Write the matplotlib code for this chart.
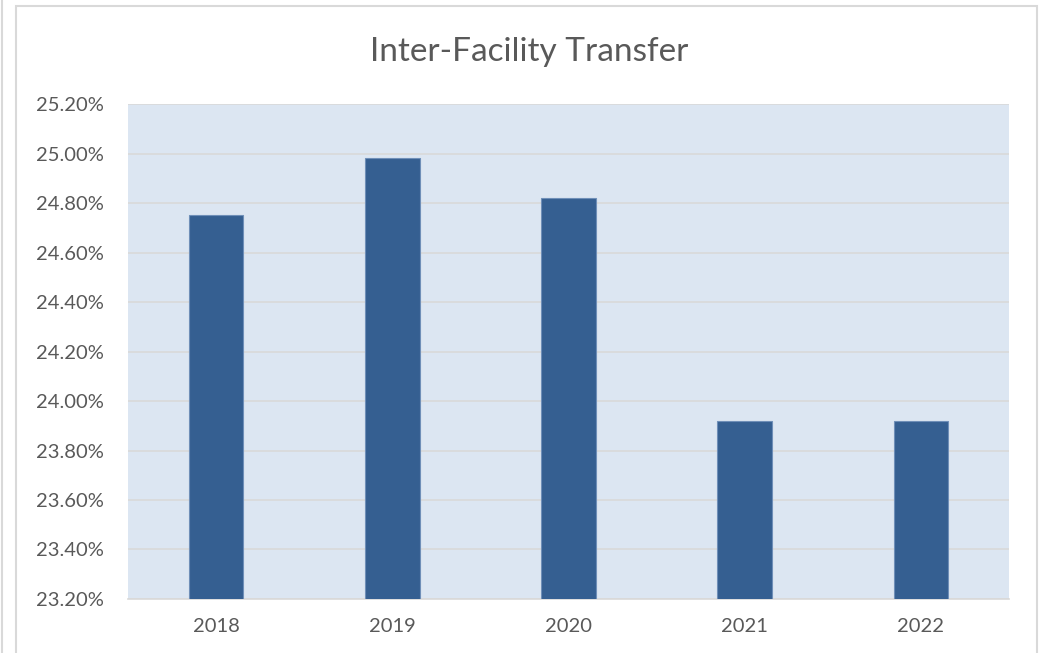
import matplotlib.pyplot as plt
from matplotlib.patches import Rectangle
from matplotlib.lines import Line2D
from matplotlib.ticker import FuncFormatter, MultipleLocator

years = ["2018", "2019", "2020", "2021", "2022"]
rates = [24.75, 24.98, 24.82, 23.92, 23.92]

plt.rcParams['font.family'] = ['Lato', 'DejaVu Sans']

fig = plt.figure(figsize=(10.42, 6.53), dpi=100)
ax = fig.add_axes([0.1228, 0.0827, 0.8455, 0.758])

# chart border (and edge of the neighbouring chart on the left)
fig.patches.append(Rectangle((16 / 1042, -0.05), 1021 / 1042, 1 - 6 / 653 + 0.05,
                             transform=fig.transFigure, fill=False,
                             edgecolor='#d9d9d9', linewidth=1.5))
fig.lines.append(Line2D([2 / 1042, 2 / 1042], [0, 1], transform=fig.transFigure,
                        color='#d9d9d9', linewidth=1.5))

ax.set_facecolor('#dce6f2')
x = range(len(years))
ax.bar(x, rates, width=0.31, color='#355f91', edgecolor='#6f8fb8',
       linewidth=0.8, zorder=3)

ax.set_ylim(23.2, 25.2)
ax.set_xlim(-0.5, len(years) - 0.5)
ax.yaxis.set_major_locator(MultipleLocator(0.2))
ax.yaxis.set_major_formatter(FuncFormatter(lambda v, p: f"{v:.2f}%"))
ax.set_xticks(list(x))
ax.set_xticklabels(years)
ax.grid(axis='y', color='#d9d9d9', linewidth=1.2, zorder=0)
ax.set_axisbelow(True)

for s in ['top', 'right', 'left']:
    ax.spines[s].set_visible(False)
ax.spines['bottom'].set_color('#d9d9d9')
ax.spines['bottom'].set_linewidth(1.2)

ax.tick_params(axis='both', length=0, labelsize=14.5, labelcolor='#595959')
ax.tick_params(axis='y', pad=17)
ax.tick_params(axis='x', pad=14)

fig.text(529 / 1042, 1 - 61 / 653, "Inter-Facility Transfer", ha='center',
         va='baseline', fontsize=24, color='#595959')

fig.savefig("out.png", dpi=100)
